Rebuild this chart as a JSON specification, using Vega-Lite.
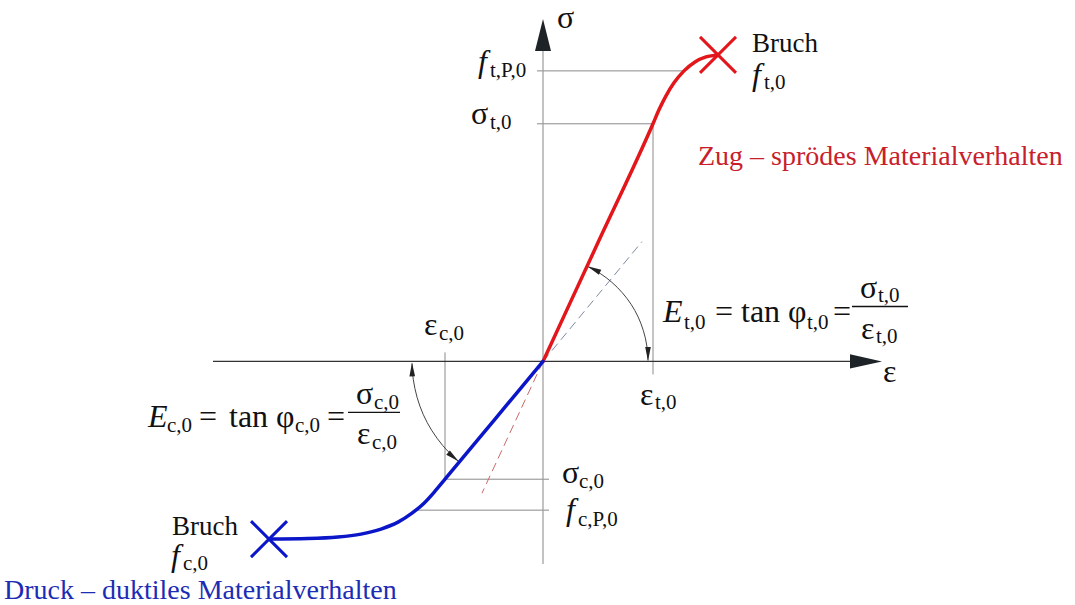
{
  "$schema": "https://vega.github.io/schema/vega-lite/v6.json",
  "width": 1075,
  "height": 605,
  "autosize": {"type": "fit", "contains": "padding"},
  "padding": 0,
  "background": "white",
  "config": {"view": {"stroke": null}},
  "datasets": {
    "axes": [
      {"part": "sigma", "x": 0, "y": -2.03, "x2": 0, "y2": 3.2},
      {"part": "eps", "x": -3.3, "y": 0, "x2": 3.12, "y2": 0}
    ],
    "heads": [
      {"part": "sigma", "x": 0, "y": 3.43},
      {"part": "eps", "x": 3.39, "y": 0}
    ],
    "guides": [
      {"name": "f_t,P,0", "x": -0.06, "y": 2.91, "x2": 1.41, "y2": 2.91},
      {"name": "sigma_t,0", "x": -0.06, "y": 2.38, "x2": 1.1, "y2": 2.38},
      {"name": "eps_t,0", "x": 1.1, "y": 2.38, "x2": 1.1, "y2": -0.13},
      {"name": "eps_c,0", "x": -0.98, "y": 0.09, "x2": -0.98, "y2": -1.18},
      {"name": "sigma_c,0", "x": -0.98, "y": -1.18, "x2": 0.06, "y2": -1.18},
      {"name": "f_c,P,0", "x": -1.27, "y": -1.49, "x2": 0.06, "y2": -1.49}
    ],
    "tangents": [
      {"ref": "druck", "x": 0, "y": 0, "x2": 0.99, "y2": 1.2},
      {"ref": "zug", "x": 0, "y": 0, "x2": -0.61, "y2": -1.32}
    ],
    "curves": [
      {"curve": "zug", "x": 0, "y": 0},
      {"curve": "zug", "x": 0.55, "y": 1.19},
      {"curve": "zug", "x": 1.1, "y": 2.38},
      {"curve": "zug", "x": 1.16, "y": 2.52},
      {"curve": "zug", "x": 1.23, "y": 2.66},
      {"curve": "zug", "x": 1.31, "y": 2.79},
      {"curve": "zug", "x": 1.41, "y": 2.91},
      {"curve": "zug", "x": 1.52, "y": 3.0},
      {"curve": "zug", "x": 1.63, "y": 3.05},
      {"curve": "zug", "x": 1.75, "y": 3.07},
      {"curve": "druck", "x": 0, "y": 0},
      {"curve": "druck", "x": -0.49, "y": -0.59},
      {"curve": "druck", "x": -0.98, "y": -1.18},
      {"curve": "druck", "x": -1.08, "y": -1.3},
      {"curve": "druck", "x": -1.19, "y": -1.42},
      {"curve": "druck", "x": -1.31, "y": -1.52},
      {"curve": "druck", "x": -1.45, "y": -1.61},
      {"curve": "druck", "x": -1.62, "y": -1.68},
      {"curve": "druck", "x": -1.82, "y": -1.73},
      {"curve": "druck", "x": -2.05, "y": -1.76},
      {"curve": "druck", "x": -2.35, "y": -1.775},
      {"curve": "druck", "x": -2.74, "y": -1.78}
    ],
    "breaks": [
      {"curve": "zug", "x": 1.75, "y": 3.07},
      {"curve": "druck", "x": -2.74, "y": -1.78}
    ],
    "arcs": [
      {"arc": "t", "i": 0, "x": 0.444, "y": 0.952},
      {"arc": "t", "i": 1, "x": 0.572, "y": 0.881},
      {"arc": "t", "i": 2, "x": 0.689, "y": 0.792},
      {"arc": "t", "i": 3, "x": 0.792, "y": 0.689},
      {"arc": "t", "i": 4, "x": 0.881, "y": 0.572},
      {"arc": "t", "i": 5, "x": 0.952, "y": 0.444},
      {"arc": "t", "i": 6, "x": 1.004, "y": 0.307},
      {"arc": "t", "i": 7, "x": 1.037, "y": 0.164},
      {"arc": "t", "i": 8, "x": 1.05, "y": 0.01},
      {"arc": "c", "i": 0, "x": -1.31, "y": -0.02},
      {"arc": "c", "i": 1, "x": -1.297, "y": -0.182},
      {"arc": "c", "i": 2, "x": -1.259, "y": -0.361},
      {"arc": "c", "i": 3, "x": -1.197, "y": -0.533},
      {"arc": "c", "i": 4, "x": -1.111, "y": -0.694},
      {"arc": "c", "i": 5, "x": -1.003, "y": -0.842},
      {"arc": "c", "i": 6, "x": -0.877, "y": -0.973},
      {"arc": "c", "i": 7, "x": -0.842, "y": -1.003}
    ],
    "arcHeads": [
      {"end": "t_start", "x": 0.444, "y": 0.952},
      {"end": "t_end", "x": 1.05, "y": 0.005},
      {"end": "c_start", "x": -1.31, "y": -0.01},
      {"end": "c_end", "x": -0.842, "y": -1.003}
    ],
    "bars": [
      {"x": 3.09, "y": 0.55, "x2": 3.65, "y2": 0.55},
      {"x": -1.95, "y": -0.51, "x2": -1.43, "y2": -0.51}
    ],
    "texts": [
      {"role": "math", "x": 0.14, "y": 3.34, "text": "σ"},
      {"role": "math", "x": 3.4, "y": -0.21, "text": "ε"},
      {"role": "math", "x": -0.72, "y": 2.38, "text": "σ"},
      {"role": "math", "x": 0.19, "y": -1.22, "text": "σ"},
      {"role": "math", "x": 0.97, "y": -0.44, "text": "ε"},
      {"role": "math", "x": -1.19, "y": 0.26, "text": "ε"},
      {"role": "math", "x": 1.72, "y": 0.39, "text": "="},
      {"role": "math", "x": 1.98, "y": 0.39, "text": "tan"},
      {"role": "math", "x": 2.45, "y": 0.39, "text": "φ"},
      {"role": "math", "x": 2.9, "y": 0.39, "text": "="},
      {"role": "math", "x": 3.17, "y": 0.64, "text": "σ"},
      {"role": "math", "x": 3.18, "y": 0.22, "text": "ε"},
      {"role": "math", "x": -3.44, "y": -0.66, "text": "="},
      {"role": "math", "x": -3.14, "y": -0.66, "text": "tan"},
      {"role": "math", "x": -2.67, "y": -0.66, "text": "φ"},
      {"role": "math", "x": -2.16, "y": -0.66, "text": "="},
      {"role": "math", "x": -1.87, "y": -0.43, "text": "σ"},
      {"role": "math", "x": -1.86, "y": -0.83, "text": "ε"},
      {"role": "it", "x": -0.65, "y": 2.9, "text": "f"},
      {"role": "it", "x": 0.23, "y": -1.59, "text": "f"},
      {"role": "it", "x": 2.09, "y": 2.77, "text": "f"},
      {"role": "it", "x": -3.72, "y": -2.05, "text": "f"},
      {"role": "it", "x": 1.2, "y": 0.39, "text": "E"},
      {"role": "it", "x": -3.95, "y": -0.66, "text": "E"},
      {"role": "sub", "x": -0.53, "y": 2.85, "text": "t,P,0"},
      {"role": "sub", "x": -0.53, "y": 2.33, "text": "t,0"},
      {"role": "sub", "x": 0.36, "y": -1.27, "text": "c,0"},
      {"role": "sub", "x": 0.35, "y": -1.65, "text": "c,P,0"},
      {"role": "sub", "x": 1.12, "y": -0.48, "text": "t,0"},
      {"role": "sub", "x": -1.04, "y": 0.21, "text": "c,0"},
      {"role": "sub", "x": 2.21, "y": 2.73, "text": "t,0"},
      {"role": "sub", "x": -3.6, "y": -2.09, "text": "c,0"},
      {"role": "sub", "x": 1.41, "y": 0.32, "text": "t,0"},
      {"role": "sub", "x": 2.64, "y": 0.32, "text": "t,0"},
      {"role": "sub", "x": 3.35, "y": 0.6, "text": "t,0"},
      {"role": "sub", "x": 3.33, "y": 0.18, "text": "t,0"},
      {"role": "sub", "x": -3.76, "y": -0.71, "text": "c,0"},
      {"role": "sub", "x": -2.48, "y": -0.71, "text": "c,0"},
      {"role": "sub", "x": -1.69, "y": -0.48, "text": "c,0"},
      {"role": "sub", "x": -1.71, "y": -0.88, "text": "c,0"},
      {"role": "word", "x": 2.09, "y": 3.1, "text": "Bruch"},
      {"role": "word", "x": -3.71, "y": -1.74, "text": "Bruch"},
      {"role": "zug", "x": 1.55, "y": 1.97, "text": "Zug – sprödes Materialverhalten"},
      {"role": "druck", "x": -5.39, "y": -2.38, "text": "Druck – duktiles Materialverhalten"}
    ]
  },
  "encoding": {
    "x": {"field": "x", "type": "quantitative", "scale": {"domain": [-5.43, 5.32], "nice": false, "zero": false}, "axis": null},
    "y": {"field": "y", "type": "quantitative", "scale": {"domain": [-2.43, 3.62], "nice": false, "zero": false}, "axis": null}
  },
  "layer": [
    {
      "data": {"name": "guides"},
      "mark": {"type": "rule", "color": "#8a8a8a", "strokeWidth": 1},
      "encoding": {"x2": {"field": "x2"}, "y2": {"field": "y2"}}
    },
    {
      "data": {"name": "axes"},
      "transform": [{"filter": "datum.part === 'sigma'"}],
      "mark": {"type": "rule", "color": "#9a9a9a", "strokeWidth": 1.2},
      "encoding": {"x2": {"field": "x2"}, "y2": {"field": "y2"}}
    },
    {
      "data": {"name": "axes"},
      "transform": [{"filter": "datum.part === 'eps'"}],
      "mark": {"type": "rule", "color": "#333333", "strokeWidth": 1.2},
      "encoding": {"x2": {"field": "x2"}, "y2": {"field": "y2"}}
    },
    {
      "data": {"name": "tangents"},
      "transform": [{"filter": "datum.ref === 'druck'"}],
      "mark": {"type": "rule", "color": "#7d8aa0", "strokeWidth": 1, "strokeDash": [9, 5]},
      "encoding": {"x2": {"field": "x2"}, "y2": {"field": "y2"}}
    },
    {
      "data": {"name": "tangents"},
      "transform": [{"filter": "datum.ref === 'zug'"}],
      "mark": {"type": "rule", "color": "#c86a6a", "strokeWidth": 1, "strokeDash": [9, 5]},
      "encoding": {"x2": {"field": "x2"}, "y2": {"field": "y2"}}
    },
    {
      "data": {"name": "arcs"},
      "mark": {"type": "line", "interpolate": "cardinal", "color": "#444444", "strokeWidth": 1},
      "encoding": {"detail": {"field": "arc"}, "order": {"field": "i", "type": "quantitative"}}
    },
    {
      "data": {"name": "arcHeads"},
      "transform": [{"filter": "datum.end === 't_start'"}],
      "mark": {"type": "point", "shape": "M0,0L-2,-0.4L-2,0.4Z", "filled": true, "opacity": 1, "color": "#222222", "size": 196, "angle": 205}
    },
    {
      "data": {"name": "arcHeads"},
      "transform": [{"filter": "datum.end === 't_end'"}],
      "mark": {"type": "point", "shape": "M0,0L-2,-0.4L-2,0.4Z", "filled": true, "opacity": 1, "color": "#222222", "size": 196, "angle": 90}
    },
    {
      "data": {"name": "arcHeads"},
      "transform": [{"filter": "datum.end === 'c_start'"}],
      "mark": {"type": "point", "shape": "M0,0L-2,-0.4L-2,0.4Z", "filled": true, "opacity": 1, "color": "#222222", "size": 196, "angle": 269}
    },
    {
      "data": {"name": "arcHeads"},
      "transform": [{"filter": "datum.end === 'c_end'"}],
      "mark": {"type": "point", "shape": "M0,0L-2,-0.4L-2,0.4Z", "filled": true, "opacity": 1, "color": "#222222", "size": 196, "angle": 40}
    },
    {
      "data": {"name": "heads"},
      "transform": [{"filter": "datum.part === 'sigma'"}],
      "mark": {"type": "point", "shape": "M0,0L-2,-0.5L-2,0.5Z", "filled": true, "opacity": 1, "color": "#1e2328", "size": 1024, "angle": 270}
    },
    {
      "data": {"name": "heads"},
      "transform": [{"filter": "datum.part === 'eps'"}],
      "mark": {"type": "point", "shape": "M0,0L-2,-0.45L-2,0.45Z", "filled": true, "opacity": 1, "color": "#1e2328", "size": 1024, "angle": 0}
    },
    {
      "data": {"name": "curves"},
      "mark": {"type": "line", "interpolate": "monotone", "strokeWidth": 3.5, "strokeCap": "round"},
      "encoding": {
        "color": {"field": "curve", "type": "nominal", "scale": {"domain": ["zug", "druck"], "range": ["#e3161b", "#0b16c8"]}, "legend": null}
      }
    },
    {
      "data": {"name": "breaks"},
      "mark": {"type": "point", "shape": "M-1,-1L1,1M-1,1L1,-1", "filled": false, "opacity": 1, "strokeWidth": 3, "size": 1296},
      "encoding": {
        "color": {"field": "curve", "type": "nominal", "scale": {"domain": ["zug", "druck"], "range": ["#e3161b", "#0b16c8"]}, "legend": null}
      }
    },
    {
      "data": {"name": "bars"},
      "mark": {"type": "rule", "color": "#111111", "strokeWidth": 1.3},
      "encoding": {"x2": {"field": "x2"}, "y2": {"field": "y2"}}
    },
    {
      "data": {"name": "texts"},
      "transform": [{"filter": "datum.role === 'math'"}],
      "mark": {"type": "text", "align": "left", "baseline": "alphabetic", "font": "Liberation Serif", "fontSize": 32, "color": "#111111"},
      "encoding": {"text": {"field": "text"}}
    },
    {
      "data": {"name": "texts"},
      "transform": [{"filter": "datum.role === 'it'"}],
      "mark": {"type": "text", "align": "left", "baseline": "alphabetic", "font": "Liberation Serif", "fontStyle": "italic", "fontSize": 32, "color": "#111111"},
      "encoding": {"text": {"field": "text"}}
    },
    {
      "data": {"name": "texts"},
      "transform": [{"filter": "datum.role === 'sub'"}],
      "mark": {"type": "text", "align": "left", "baseline": "alphabetic", "font": "Liberation Serif", "fontSize": 21, "color": "#111111"},
      "encoding": {"text": {"field": "text"}}
    },
    {
      "data": {"name": "texts"},
      "transform": [{"filter": "datum.role === 'word'"}],
      "mark": {"type": "text", "align": "left", "baseline": "alphabetic", "font": "Liberation Serif", "fontSize": 27, "color": "#111111"},
      "encoding": {"text": {"field": "text"}}
    },
    {
      "data": {"name": "texts"},
      "transform": [{"filter": "datum.role === 'zug'"}],
      "mark": {"type": "text", "align": "left", "baseline": "alphabetic", "font": "Liberation Serif", "fontSize": 28, "color": "#c8202a"},
      "encoding": {"text": {"field": "text"}}
    },
    {
      "data": {"name": "texts"},
      "transform": [{"filter": "datum.role === 'druck'"}],
      "mark": {"type": "text", "align": "left", "baseline": "alphabetic", "font": "Liberation Serif", "fontSize": 28, "color": "#1c2cb4"},
      "encoding": {"text": {"field": "text"}}
    }
  ]
}
